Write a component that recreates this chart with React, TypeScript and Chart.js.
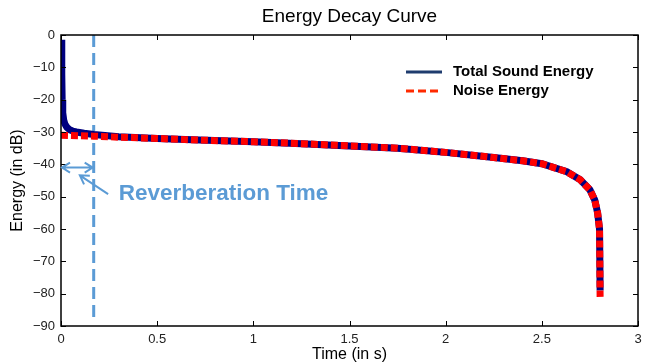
import React, { useEffect, useRef } from "react";
import { Chart, registerables } from "chart.js";

Chart.register(...registerables);

// ---- data ----
const totalTimes = [0.003, 0.004, 0.006, 0.009, 0.014, 0.02, 0.03, 0.045, 0.06, 0.08, 0.12, 0.17, 0.3, 0.5, 0.72, 1.0, 1.25, 1.5, 1.75, 2.0, 2.25, 2.4, 2.5, 2.63, 2.7, 2.75, 2.775, 2.79, 2.8, 2.803];
const totalEnergy = [-1.5, -12, -20, -24, -26.3, -27.5, -28.5, -29.3, -29.7, -30.0, -30.4, -30.8, -31.5, -32.0, -32.5, -33.0, -33.6, -34.3, -35.0, -36.3, -37.9, -38.9, -39.8, -42.3, -44.8, -47.9, -51, -55, -60, -79];
const noiseTimes = [0, 0.17, 0.3, 0.5, 0.72, 1.0, 1.25, 1.5, 1.75, 2.0, 2.25, 2.4, 2.5, 2.63, 2.7, 2.75, 2.775, 2.79, 2.8, 2.803];
const noiseEnergy = [-31.0, -31.3, -31.6, -32.0, -32.5, -33.0, -33.6, -34.3, -35.0, -36.3, -37.9, -38.9, -39.8, -42.3, -44.8, -47.9, -51, -55, -60, -81];
const reverbTime = 0.17;
const xTicks = [0, 0.5, 1, 1.5, 2, 2.5, 3];
const yTicks = [0, -10, -20, -30, -40, -50, -60, -70, -80, -90];
const legendLabels = ["Total Sound Energy", "Noise Energy"];
const annotationText = "Reverberation Time";
// annotation anchors in data units
const spanArrowY = -41;
const pointerArrow = { fromX: 0.245, fromY: -49.2, toX: 0.098, toY: -43.4 };
const annotationTextPos = { x: 0.3, y: -49 };

const NAVY = "#00007f";
const RED = "#ff0000";
const LIGHTBLUE = "#5b9bd5";
const FONT = "'Liberation Sans', Arial, sans-serif";

function minusFmt(v: number | string) {
  return String(v).replace("-", "\u2212");
}

const overlayPlugin = {
  id: "overlay",
  afterDraw(chart: any) {
    const ctx = chart.ctx as CanvasRenderingContext2D;
    const { left, right, top, bottom } = chart.chartArea;
    const xs = chart.scales.x;
    const ys = chart.scales.y;
    ctx.save();
    // box
    ctx.strokeStyle = "#000";
    ctx.lineWidth = 1.5;
    ctx.strokeRect(left, top, right - left, bottom - top);
    // inward ticks
    ctx.lineWidth = 1;
    ctx.beginPath();
    xTicks.forEach((t) => {
      const px = Math.round(xs.getPixelForValue(t)) + 0.5;
      ctx.moveTo(px, bottom);
      ctx.lineTo(px, bottom - 5);
      ctx.moveTo(px, top);
      ctx.lineTo(px, top + 5);
    });
    yTicks.forEach((t) => {
      const py = Math.round(ys.getPixelForValue(t)) + 0.5;
      ctx.moveTo(left, py);
      ctx.lineTo(left + 5, py);
      ctx.moveTo(right, py);
      ctx.lineTo(right - 5, py);
    });
    ctx.stroke();

    // title
    ctx.fillStyle = "#000";
    ctx.font = `19px ${FONT}`;
    ctx.textAlign = "center";
    ctx.textBaseline = "middle";
    ctx.fillText("Energy Decay Curve", (left + right) / 2, 17);

    // legend
    const lx0 = 406, lx1 = 442;
    const ly1 = 72, ly2 = 91;
    ctx.lineWidth = 3;
    ctx.strokeStyle = "#1f3c6e";
    ctx.setLineDash([]);
    ctx.beginPath();
    ctx.moveTo(lx0, ly1);
    ctx.lineTo(lx1, ly1);
    ctx.stroke();
    ctx.strokeStyle = "#ff2a00";
    ctx.setLineDash([8, 4]);
    ctx.beginPath();
    ctx.moveTo(lx0, ly2);
    ctx.lineTo(lx1, ly2);
    ctx.stroke();
    ctx.setLineDash([]);
    ctx.fillStyle = "#000";
    ctx.font = `bold 15px ${FONT}`;
    ctx.textAlign = "left";
    ctx.fillText(legendLabels[0], 453, ly1);
    ctx.fillText(legendLabels[1], 453, ly2);

    // annotations
    ctx.strokeStyle = LIGHTBLUE;
    ctx.fillStyle = LIGHTBLUE;
    ctx.lineWidth = 2;
    const ax0 = xs.getPixelForValue(0) + 1;
    const ax1 = xs.getPixelForValue(reverbTime) - 1;
    const ay = ys.getPixelForValue(spanArrowY);
    const head = 8;
    ctx.beginPath();
    ctx.moveTo(ax0, ay);
    ctx.lineTo(ax1, ay);
    ctx.moveTo(ax0 + head, ay - 5);
    ctx.lineTo(ax0, ay);
    ctx.lineTo(ax0 + head, ay + 5);
    ctx.moveTo(ax1 - head, ay - 5);
    ctx.lineTo(ax1, ay);
    ctx.lineTo(ax1 - head, ay + 5);
    ctx.stroke();

    const px0 = xs.getPixelForValue(pointerArrow.fromX);
    const py0 = ys.getPixelForValue(pointerArrow.fromY);
    const px1 = xs.getPixelForValue(pointerArrow.toX);
    const py1 = ys.getPixelForValue(pointerArrow.toY);
    const ang = Math.atan2(py1 - py0, px1 - px0);
    ctx.beginPath();
    ctx.moveTo(px0, py0);
    ctx.lineTo(px1, py1);
    const spread = 0.55;
    ctx.moveTo(px1 - 10 * Math.cos(ang - spread), py1 - 10 * Math.sin(ang - spread));
    ctx.lineTo(px1, py1);
    ctx.lineTo(px1 - 10 * Math.cos(ang + spread), py1 - 10 * Math.sin(ang + spread));
    ctx.stroke();

    ctx.font = `bold 22.5px ${FONT}`;
    ctx.textAlign = "left";
    ctx.textBaseline = "middle";
    ctx.fillText(annotationText, xs.getPixelForValue(annotationTextPos.x), ys.getPixelForValue(annotationTextPos.y));
    ctx.restore();
  },
};

export default function App() {
  const ref = useRef<HTMLCanvasElement | null>(null);
  useEffect(() => {
    if (!ref.current) return;
    const chart = new Chart(ref.current, {
      type: "line",
      data: {
        datasets: [
          {
            label: "Reverb",
            data: [
              { x: reverbTime, y: 0 },
              { x: reverbTime, y: -88 },
            ],
            borderColor: LIGHTBLUE,
            borderWidth: 3,
            borderDash: [12, 6],
            pointRadius: 0,
            order: 3,
          },
          {
            label: legendLabels[0],
            data: totalTimes.map((t, i) => ({ x: t, y: totalEnergy[i] })),
            borderColor: NAVY,
            borderWidth: 7,
            pointRadius: 0,
            tension: 0,
            borderCapStyle: "butt",
            order: 2,
          },
          {
            label: legendLabels[1],
            data: noiseTimes.map((t, i) => ({ x: t, y: noiseEnergy[i] })),
            borderColor: RED,
            borderWidth: 7,
            borderDash: [7, 3],
            pointRadius: 0,
            tension: 0,
            borderCapStyle: "butt",
            order: 1,
          },
        ],
      },
      options: {
        animation: false,
        responsive: false,
        maintainAspectRatio: false,
        layout: { padding: { top: 35, right: 14, left: 0, bottom: 0 } },
        plugins: {
          legend: { display: false },
          title: { display: false },
          tooltip: { enabled: false },
        },
        scales: {
          x: {
            type: "linear",
            min: 0,
            max: 3,
            afterBuildTicks: (s: any) => {
              s.ticks = xTicks.map((v) => ({ value: v }));
            },
            afterFit: (s: any) => {
              s.height = 38;
            },
            grid: { display: false, drawTicks: false },
            border: { display: false },
            ticks: {
              padding: 6,
              color: "#222",
              font: { family: FONT, size: 13 },
              callback: (v: any) => minusFmt(v),
              maxRotation: 0,
            },
            title: {
              display: true,
              text: "Time (in s)",
              color: "#000",
              padding: { top: 0, bottom: 0 },
              font: { family: FONT, size: 16 },
            },
          },
          y: {
            type: "linear",
            min: -90,
            max: 0,
            afterBuildTicks: (s: any) => {
              s.ticks = yTicks.map((v) => ({ value: v }));
            },
            afterFit: (s: any) => {
              s.width = 61;
            },
            grid: { display: false, drawTicks: false },
            border: { display: false },
            ticks: {
              padding: 6,
              color: "#222",
              font: { family: FONT, size: 13 },
              callback: (v: any) => minusFmt(v),
            },
            title: {
              display: true,
              text: "Energy (in dB)",
              color: "#000",
              padding: { top: 8, bottom: 0 },
              font: { family: FONT, size: 16 },
            },
          },
        },
      },
      plugins: [overlayPlugin],
    });
    return () => chart.destroy();
  }, []);
  return (
    <div style={{ position: "fixed", left: 0, top: 0, width: 652, height: 364, background: "#fff" }}>
      <canvas ref={ref} width={652} height={364} style={{ width: 652, height: 364 }} />
    </div>
  );
}
